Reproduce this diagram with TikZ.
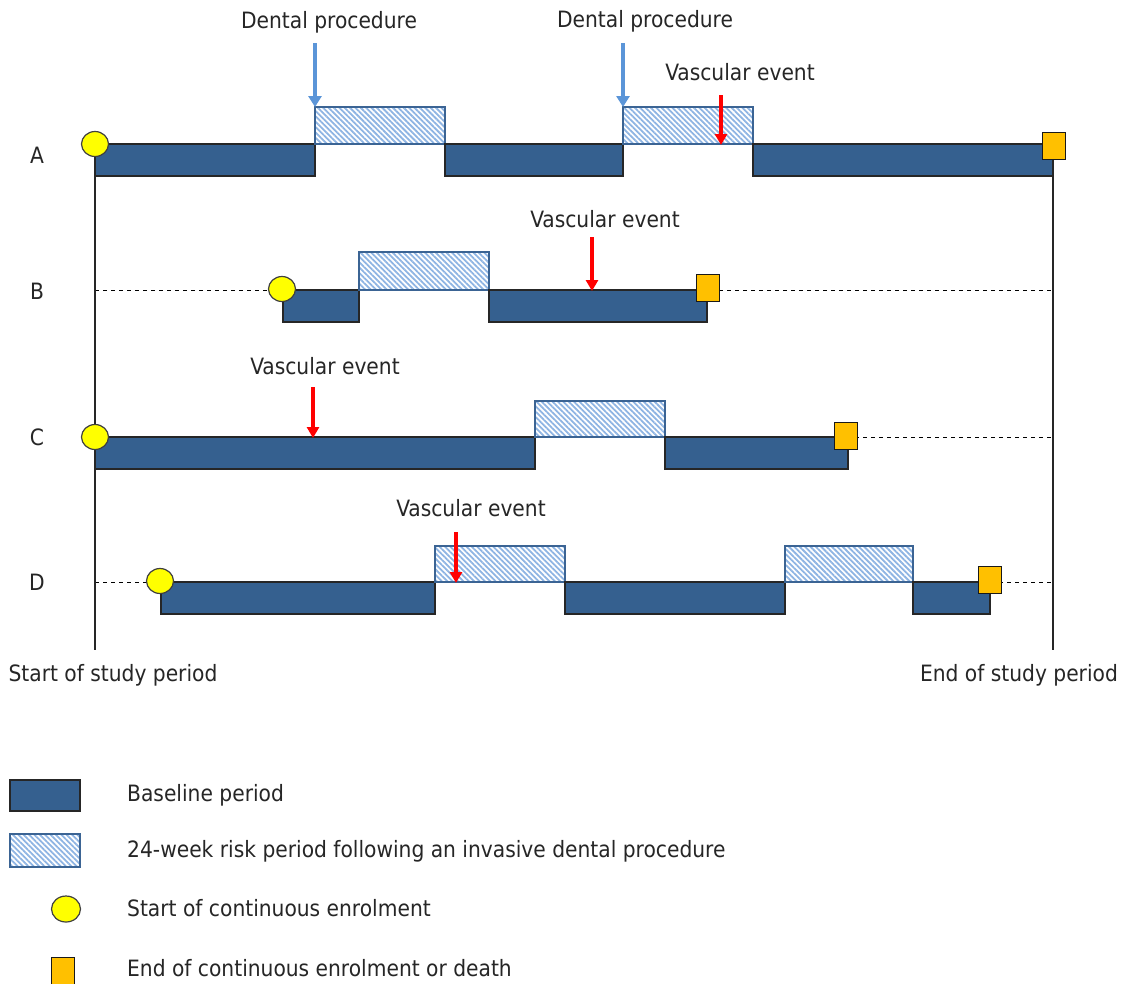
\documentclass[tikz,border=0pt]{standalone}
\usepackage{fontspec}
\setmainfont{DejaVu Sans Condensed}
\usetikzlibrary{arrows.meta,patterns.meta,shapes.geometric}
\definecolor{basefill}{HTML}{35608F}
\definecolor{hatchline}{HTML}{8EB4E3}
\definecolor{hatchedge}{HTML}{3B6494}
\definecolor{dentblue}{HTML}{5B95D8}
\definecolor{startyel}{HTML}{FFFF00}
\definecolor{endorange}{HTML}{FFC000}
\tikzset{
  basebar/.style={fill=basefill, draw=black!85, line width=1.5pt},
  riskbar/.style={pattern={Lines[angle=-45,distance=3.8pt,line width=1.8pt]},
                  pattern color=hatchline, draw=hatchedge, line width=1.3pt},
  startmark/.style={ellipse, fill=startyel, draw=black!75, line width=1.2pt,
                  minimum width=27pt, minimum height=25pt, inner sep=0pt},
  endmark/.style={rectangle, fill=endorange, draw=black!90, line width=1.6pt,
                  minimum width=23pt, minimum height=27pt, inner sep=0pt},
  dentarrow/.style={draw=dentblue, line width=3.4pt, -{Triangle[length=11pt,width=13pt]}},
  vasarrow/.style={draw=red, line width=3.4pt, -{Triangle[length=11pt,width=12pt]}},
  rowline/.style={draw=black, line width=1pt, dash pattern=on 4pt off 4pt},
  studyline/.style={draw=black!85, line width=1.7pt},
  lbl/.style={font=\fontsize{22.5}{25}\selectfont, text=black!85, inner sep=0pt},
}
\begin{document}
\begin{tikzpicture}[x=1pt,y=-1pt]
\useasboundingbox (0,0) rectangle (1130,983);
\fill[white] (0,0) rectangle (1130,983);

% dashed row guides
\draw[rowline] (95,290) -- (1053,290);
\draw[rowline] (95,437) -- (1053,437);
\draw[rowline] (95,582) -- (1053,582);

% study period boundaries
\draw[studyline] (95,144) -- (95,650);
\draw[studyline] (1053,144) -- (1053,650);

% row labels
\node[lbl] (rA) at (37,155) {A};
\node[lbl] (rB) at (37,291) {B};
\node[lbl] (rC) at (37,437) {C};
\node[lbl] (rD) at (37,582) {D};

% row A
\path[basebar] (95,144) rectangle (315,176);
\path[riskbar] (315,107) rectangle (445,144);
\path[basebar] (445,144) rectangle (623,176);
\path[riskbar] (623,107) rectangle (753,144);
\path[basebar] (753,144) rectangle (1053,176);
\node[startmark] (sA) at (95,144) {};
\node[endmark] (eA) at (1054,146) {};

% row B
\path[basebar] (283,290) rectangle (359,322);
\path[riskbar] (359,252) rectangle (489,290);
\path[basebar] (489,290) rectangle (707,322);
\node[startmark] (sB) at (282,289) {};
\node[endmark] (eB) at (708,288) {};

% row C
\path[basebar] (95,437) rectangle (535,469);
\path[riskbar] (535,401) rectangle (665,437);
\path[basebar] (665,437) rectangle (848,469);
\node[startmark] (sC) at (95,437) {};
\node[endmark] (eC) at (846,436) {};

% row D
\path[basebar] (161,582) rectangle (435,614);
\path[riskbar] (435,546) rectangle (565,582);
\path[basebar] (565,582) rectangle (785,614);
\path[riskbar] (785,546) rectangle (913,582);
\path[basebar] (913,582) rectangle (990,614);
\node[startmark] (sD) at (160,581) {};
\node[endmark] (eD) at (990,580) {};

% event labels and arrows
\node[lbl] (dp1) at (329,22) {Dental procedure};
\node[lbl] (dp2) at (645,21) {Dental procedure};
\node[lbl] (vA) at (740,72) {Vascular event};
\node[lbl] (vB) at (605,219) {Vascular event};
\node[lbl] (vC) at (325,366) {Vascular event};
\node[lbl] (vD) at (471,508) {Vascular event};

\coordinate (dp1t) at (315,43);  \coordinate (dp1h) at (315,107);
\coordinate (dp2t) at (623,43);  \coordinate (dp2h) at (623,107);
\coordinate (vAt) at (721,95);   \coordinate (vAh) at (721,145);
\coordinate (vBt) at (592,237);  \coordinate (vBh) at (592,291);
\coordinate (vCt) at (313,387);  \coordinate (vCh) at (313,438);
\coordinate (vDt) at (456,532);  \coordinate (vDh) at (456,583);
\draw[dentarrow] (dp1t) -- (dp1h);
\draw[dentarrow] (dp2t) -- (dp2h);
\draw[vasarrow] (vAt) -- (vAh);
\draw[vasarrow] (vBt) -- (vBh);
\draw[vasarrow] (vCt) -- (vCh);
\draw[vasarrow] (vDt) -- (vDh);

% period captions
\node[lbl] (sp) at (113,675) {Start of study period};
\node[lbl] (ep) at (1019,675) {End of study period};

% legend
\path[basebar] (10,780) rectangle (80,811);
\path[riskbar] (10,834) rectangle (80,867);
\node[startmark, minimum width=29pt, minimum height=26pt] (lS) at (66,909) {};
\node[endmark] (lE) at (63,971) {};
\node[lbl, anchor=west] (t1) at (127,795) {Baseline period};
\node[lbl, anchor=west] (t2) at (127,851) {24-week risk period following an invasive dental procedure};
\node[lbl, anchor=west] (t3) at (127,908) {Start of continuous enrolment};
\node[lbl, anchor=west] (t4) at (127,968) {End of continuous enrolment or death};
\end{tikzpicture}
\end{document}
